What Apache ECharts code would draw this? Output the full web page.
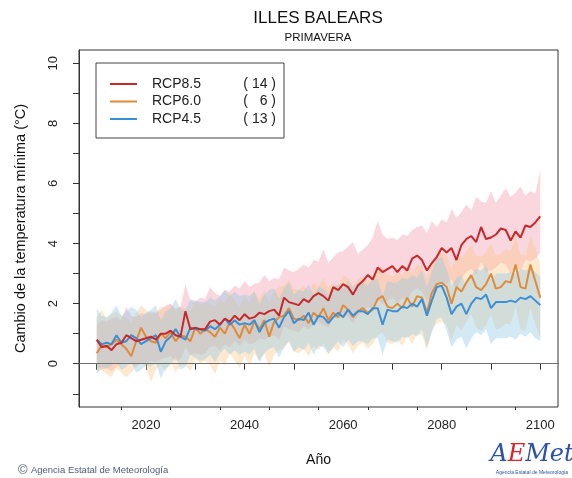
<!DOCTYPE html>
<html>
<head>
<meta charset="utf-8">
<script src="https://cdn.jsdelivr.net/npm/echarts@6/dist/echarts.min.js"></script>
<style>html,body{margin:0;padding:0;background:#fff}#c{width:572px;height:478px}</style>
</head>
<body>
<div id="c"></div>
<script>
// ---- data ----
const firstYear = 2010;
const lastYear = 2100;
const scenarios = ['RCP8.5', 'RCP6.0', 'RCP4.5'];
const modelCounts = [14, 6, 13];

const rcp85Mean = [0.80,0.55,0.60,0.45,0.65,0.70,0.95,0.85,0.75,0.80,
0.85,0.90,0.80,1.00,1.00,1.10,0.95,0.90,1.75,1.15,
1.20,1.15,1.15,1.40,1.45,1.30,1.50,1.40,1.60,1.45,
1.65,1.50,1.55,1.70,1.65,1.75,1.80,1.60,2.20,2.05,
2.00,1.95,2.15,2.05,2.25,2.35,2.25,2.10,2.55,2.45,
2.65,2.55,2.30,2.60,2.75,2.95,2.80,3.20,3.05,3.15,
3.25,3.05,3.25,3.10,3.50,3.60,3.45,3.10,3.35,3.55,
3.85,3.70,3.85,3.45,3.95,4.15,4.25,4.05,4.55,4.15,
4.20,4.30,4.50,4.45,4.10,4.40,4.20,4.60,4.55,4.70,
4.90];
const rcp85Upper = [1.30,1.45,1.40,1.50,1.55,1.45,1.90,1.60,1.55,1.70,
1.65,1.75,1.70,1.80,1.95,2.00,1.85,1.90,2.65,2.10,
2.05,2.20,2.15,2.55,2.35,2.25,2.45,2.40,2.60,2.50,
2.75,2.55,2.65,2.70,2.95,2.75,2.85,2.80,3.20,3.10,
3.05,3.15,3.30,3.20,3.45,3.40,3.80,3.35,3.55,3.70,
3.75,3.90,4.05,3.65,3.80,3.95,4.20,4.75,4.30,4.15,
4.20,4.10,4.30,4.25,4.45,4.55,4.60,4.35,4.75,4.55,
4.80,4.70,5.15,4.85,5.05,5.30,5.10,5.55,5.40,5.35,
5.75,5.35,5.60,5.85,5.55,5.70,5.90,5.60,5.75,5.65,
6.45];
const rcp85Lower = [-0.05,-0.20,-0.15,-0.25,-0.10,0.00,0.05,0.00,-0.10,0.05,
0.00,0.10,0.05,0.15,0.20,0.25,0.10,0.15,0.55,0.30,
0.35,0.30,0.35,0.55,0.60,0.45,0.65,0.55,0.75,0.60,
0.80,0.65,0.70,0.85,0.80,0.90,0.95,0.80,1.25,1.15,
1.10,1.05,1.25,1.15,1.30,1.40,1.30,1.20,1.55,1.50,
1.65,1.55,1.35,1.60,1.75,1.90,1.80,2.10,2.00,2.10,
2.20,2.00,2.20,2.10,2.40,2.50,2.40,2.10,2.30,2.50,
2.75,2.65,2.80,2.45,2.85,3.05,3.15,2.95,3.40,3.05,
3.10,3.20,3.35,3.30,3.00,3.25,3.10,3.45,3.40,3.50,
3.70];

const rcp60Mean = [0.35,0.60,0.55,0.65,0.80,0.65,0.50,0.25,0.75,1.20,
0.90,0.75,0.70,1.00,0.85,1.05,0.75,0.95,0.90,0.75,
1.20,1.00,1.15,1.05,0.90,1.20,1.00,1.40,1.15,0.85,
1.30,1.00,1.40,1.15,1.45,0.90,1.40,1.55,1.60,1.85,
1.50,1.45,1.60,1.35,1.70,1.55,1.85,1.45,1.70,1.55,
1.95,1.80,1.55,1.75,1.85,1.70,1.80,2.15,2.25,1.90,
1.85,2.00,1.85,2.20,1.90,2.25,2.20,1.70,2.35,2.65,
2.70,2.55,2.00,2.55,2.40,2.70,2.95,2.55,2.45,2.65,
3.00,2.50,2.55,2.75,2.70,3.30,2.55,2.50,3.30,2.75,
2.20];
const rcp60Upper = [1.55,1.80,1.50,1.65,1.75,1.60,1.55,1.35,1.70,1.95,
1.80,1.65,1.70,1.90,1.85,2.00,1.75,1.90,1.85,1.75,
2.10,1.95,2.05,2.00,1.90,2.15,2.00,2.35,2.10,1.90,
2.25,2.00,2.40,2.15,2.45,2.00,2.40,2.55,2.60,2.80,
2.50,2.45,2.60,2.40,2.70,2.55,2.85,2.50,2.70,2.60,
2.95,2.85,2.60,2.80,2.90,2.75,2.85,3.15,3.25,2.95,
2.90,3.05,2.95,3.25,3.00,3.30,3.25,2.85,3.40,3.65,
3.70,3.60,3.15,3.60,3.50,3.75,3.95,3.60,3.55,3.70,
4.00,3.60,3.65,3.80,3.75,4.25,3.65,3.60,4.25,3.85,
3.30];
const rcp60Lower = [-0.30,-0.20,-0.35,-0.45,-0.15,-0.30,-0.45,-0.30,-0.10,0.05,
-0.15,-0.60,-0.20,-0.05,-0.25,0.05,-0.30,-0.05,-0.05,-0.25,
0.15,0.00,0.10,-0.05,-0.35,0.10,-0.05,0.35,0.10,-0.15,
0.25,-0.05,0.35,0.10,0.35,-0.10,0.30,0.45,0.50,0.75,
0.40,0.35,0.50,0.25,0.60,0.45,0.70,0.30,0.55,0.40,
0.80,0.65,0.35,0.60,0.70,0.50,0.65,0.95,1.05,0.70,
0.65,0.80,0.60,0.95,0.65,1.00,0.95,0.45,1.10,1.35,
1.40,1.30,0.75,1.30,1.10,1.40,1.65,1.20,1.10,1.30,
1.65,1.15,1.20,1.35,1.30,1.90,1.15,1.10,1.85,1.30,
0.85];

const rcp45Mean = [0.80,0.65,0.70,0.65,0.95,0.70,0.75,0.95,0.85,0.65,
0.75,0.85,0.95,0.40,0.75,0.90,1.15,0.90,0.80,1.20,
1.15,1.15,1.10,1.25,1.15,1.30,1.50,1.30,1.45,1.30,
1.35,1.30,1.45,1.05,1.35,1.45,1.50,1.20,1.55,1.75,
1.35,1.50,1.45,1.70,1.30,1.60,1.55,1.35,1.55,1.70,
1.55,1.80,1.60,1.75,1.75,1.65,1.85,1.85,1.30,1.80,
1.75,1.75,1.90,1.85,2.00,1.90,2.15,1.60,2.10,2.55,
2.60,2.20,1.65,1.90,2.00,1.65,2.00,2.20,2.15,2.30,
1.85,2.05,2.05,2.05,2.10,2.05,2.20,2.15,2.25,2.10,
1.95];
const rcp45Upper = [1.85,1.60,1.55,1.70,1.95,1.60,1.75,1.90,1.80,1.55,
1.70,1.80,1.95,1.45,1.75,1.85,2.15,1.85,1.75,2.15,
2.10,2.05,2.05,2.20,2.10,2.25,2.45,2.25,2.40,2.25,
2.30,2.25,2.40,2.00,2.30,2.45,2.50,2.15,2.50,2.70,
2.30,2.45,2.40,2.65,2.25,2.55,2.50,2.30,2.50,2.65,
2.50,2.75,2.55,2.70,2.70,2.60,2.80,2.80,2.25,2.75,
2.70,2.70,2.85,2.80,2.95,2.85,3.10,2.55,3.05,3.50,
3.55,3.15,2.60,2.85,2.95,2.60,2.95,3.15,3.10,3.25,
2.80,3.00,3.00,3.00,3.05,3.00,3.15,3.10,3.20,3.05,
2.90];
const rcp45Lower = [-0.35,-0.10,-0.15,-0.05,0.05,-0.20,-0.10,0.05,-0.30,-0.20,
-0.05,-0.10,0.05,-0.50,-0.15,-0.05,0.25,-0.20,-0.10,0.30,
0.20,0.10,0.15,0.30,0.05,0.35,0.50,0.30,0.45,0.30,
0.40,0.30,0.50,0.05,0.35,0.50,0.55,0.20,0.55,0.75,
0.40,0.55,0.45,0.70,0.30,0.60,0.55,0.35,0.55,0.75,
0.55,0.80,0.60,0.75,0.75,0.65,0.85,0.85,0.30,0.80,
0.75,0.70,0.90,0.85,1.00,0.90,1.15,0.55,1.05,1.50,
1.55,1.10,0.55,0.80,0.90,0.50,0.85,1.05,0.95,1.15,
0.65,0.85,0.85,0.85,0.90,0.80,1.00,0.90,1.05,0.85,
0.75];

const xLabelYears = [2020, 2040, 2060, 2080, 2100];
const xMajorTickYears = [2010, 2020, 2030, 2040, 2050, 2060, 2070, 2080, 2090, 2100];
const xMinorTickYears = [2015, 2025, 2035, 2045, 2055, 2065, 2075, 2085, 2095];
const yTickValues = [-1, 0, 1, 2, 3, 4, 5, 6, 7, 8, 9, 10];
const yLabelValues = [0, 2, 4, 6, 8, 10];

// ---- build ----
const years = [];
for (let y = firstYear; y <= lastYear; y++) years.push(y);
const pairs = arr => arr.map((v, i) => [years[i], v]);

const FONT = '"Liberation Sans", Arial, Helvetica, sans-serif';
const lineColors = ['#c8282a', '#e08b3a', '#3b8fd5'];
const bandColors = ['rgba(242,160,178,0.42)', 'rgba(251,196,132,0.38)', 'rgba(140,200,228,0.38)'];
const means = [rcp85Mean, rcp60Mean, rcp45Mean];
const uppers = [rcp85Upper, rcp60Upper, rcp45Upper];
const lowers = [rcp85Lower, rcp60Lower, rcp45Lower];

const series = [];
scenarios.forEach((name, k) => {
  const rows = years.map((yr, i) => [yr, lowers[k][i], uppers[k][i]]);
  series.push({
    name: name + ' range', type: 'custom', silent: true, z: 1,
    data: rows,
    encode: { x: 0, y: [1, 2] },
    renderItem: (params, api) => {
      if (params.dataIndex !== 0) return null;
      const top = rows.map(r => api.coord([r[0], r[2]]));
      const bottom = rows.slice().reverse().map(r => api.coord([r[0], r[1]]));
      return {
        type: 'polygon',
        shape: { points: top.concat(bottom) },
        style: { fill: bandColors[k], stroke: 'none' }
      };
    }
  });
});
const lineOrder = [1, 2, 0];
lineOrder.forEach(k => {
  const s = {
    name: scenarios[k], type: 'line', data: pairs(means[k]), symbol: 'none',
    lineStyle: { color: lineColors[k], width: 2 }, itemStyle: { color: lineColors[k] }, z: 3
  };
  if (k === 1) {
    s.markLine = {
      silent: true, symbol: 'none', label: { show: false },
      lineStyle: { color: '#707070', width: 1, type: 'solid' },
      data: [{ yAxis: 0 }]
    };
  }
  series.push(s);
});

const countOf = name => {
  const c = modelCounts[scenarios.indexOf(name)];
  return String(c).padStart(2, '\u2007');
};

const chart = echarts.init(document.getElementById('c'), null, { renderer: 'canvas' });
chart.setOption({
  animation: false,
  backgroundColor: '#fff',
  textStyle: { fontFamily: FONT },
  grid: { left: 79, right: 14, top: 50, bottom: 71, show: true, borderColor: '#333', borderWidth: 1 },
  xAxis: [{
    type: 'value', min: 2006.4, max: 2103.6,
    name: 'Año', nameLocation: 'middle', nameGap: 46,
    nameTextStyle: { fontSize: 14, color: '#111', fontFamily: FONT },
    axisLine: { show: true, lineStyle: { color: '#333' } },
    axisTick: { show: true, customValues: xMajorTickYears, length: 6, lineStyle: { color: '#333' } },
    axisLabel: { customValues: xLabelYears, formatter: v => String(v), fontSize: 13, color: '#222', margin: 12, fontFamily: FONT },
    splitLine: { show: false }
  }, {
    type: 'value', min: 2006.4, max: 2103.6, position: 'bottom',
    axisLine: { show: false },
    axisTick: { show: true, customValues: xMinorTickYears, length: 3, lineStyle: { color: '#333' } },
    axisLabel: { show: false }, splitLine: { show: false }
  }],
  yAxis: {
    type: 'value', min: -1.44, max: 10.44,
    name: 'Cambio de la temperatura mínima (°C)', nameLocation: 'middle', nameGap: 51,
    nameTextStyle: { fontSize: 14.5, color: '#111', fontFamily: FONT },
    axisLine: { show: true, lineStyle: { color: '#333' } },
    axisTick: { show: true, customValues: yTickValues, length: 6, lineStyle: { color: '#333' } },
    axisLabel: { customValues: yLabelValues, rotate: 90, fontSize: 13, color: '#222', margin: 19, fontFamily: FONT },
    splitLine: { show: false }
  },
  legend: {
    data: scenarios, orient: 'vertical', left: 96, top: 63,
    padding: [14, 8, 12, 14], itemGap: 3.5, itemWidth: 27, itemHeight: 2, icon: 'rect',
    borderColor: '#444', borderWidth: 1,
    formatter: name => '{n|' + name + '}{c|( ' + countOf(name) + ' )}',
    textStyle: {
      fontSize: 14, color: '#222', fontFamily: FONT, lineHeight: 14,
      rich: {
        n: { width: 88, padding: [0, 0, 0, 10], fontSize: 14, lineHeight: 14, fontFamily: FONT, color: '#222' },
        c: { width: 36, align: 'right', fontSize: 14, lineHeight: 14, fontFamily: FONT, color: '#222' }
      }
    }
  },
  graphic: [
    { type: 'text', x: 318, y: 18, style: { text: 'ILLES BALEARS', fontSize: 17, fontFamily: FONT, fill: '#111', textAlign: 'center', textVerticalAlign: 'middle' } },
    { type: 'text', x: 318, y: 38, style: { text: 'PRIMAVERA', fontSize: 11.5, fontFamily: FONT, fill: '#111', textAlign: 'center', textVerticalAlign: 'middle' } },
    { type: 'text', x: 18, y: 470, style: {
        text: '{a|©} {b|Agencia Estatal de Meteorología}', textVerticalAlign: 'middle',
        rich: { a: { fontSize: 13, fill: '#4d5b7c', fontFamily: FONT }, b: { fontSize: 9.5, fill: '#4d5b7c', fontFamily: FONT } } } },
    { type: 'text', x: 532, y: 455, style: {
        text: '{a|A}{e|E}{m|Met}', textAlign: 'center', textVerticalAlign: 'middle',
        rich: {
          a: { fontSize: 24, fill: '#2d53a8', fontStyle: 'italic', fontFamily: '"DejaVu Serif", serif' },
          e: { fontSize: 24, fill: '#d8262b', fontStyle: 'italic', fontFamily: '"DejaVu Serif", serif' },
          m: { fontSize: 24, fill: '#2d53a8', fontStyle: 'italic', fontFamily: '"DejaVu Serif", serif' }
        } } },
    { type: 'text', x: 532, y: 473, style: { text: 'Agencia Estatal de Meteorología', fontSize: 5, fill: '#2d53a8', fontFamily: FONT, textAlign: 'center', textVerticalAlign: 'middle' } }
  ],
  series: series
});
</script>
</body>
</html>
